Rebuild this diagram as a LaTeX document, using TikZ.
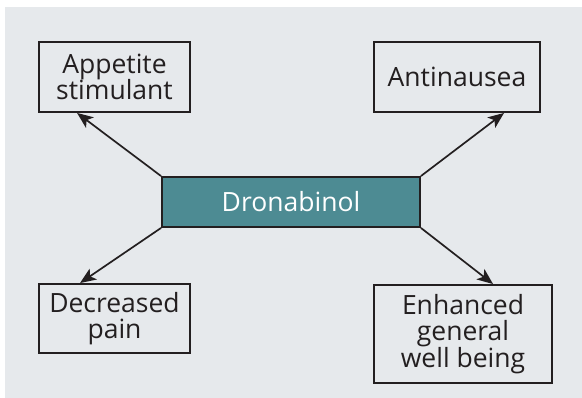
\documentclass[tikz,border=0pt]{standalone}
\usepackage{fontspec}
\setmainfont{Open Sans}
\usetikzlibrary{arrows.meta,calc}
\definecolor{bggray}{HTML}{E6E9EC}
\definecolor{teal}{HTML}{4D8B93}
\definecolor{ink}{HTML}{231F20}
\begin{document}
\begin{tikzpicture}[x=1pt,y=-1pt,
  effbox/.style={draw=ink,line width=1.9pt,fill=bggray,inner sep=0pt,align=center,
    font=\fontsize{26.5}{26.7}\selectfont,text=ink},
  drugbox/.style={draw=ink,line width=1.9pt,fill=teal,inner sep=0pt,
    font=\fontsize{26.5}{26.7}\selectfont,text=white},
  arr/.style={draw=ink,line width=1.7pt,-{Stealth[length=16pt,width=13pt,inset=4pt]}}]
\useasboundingbox (0,0) rectangle (582,398);
\fill[bggray] (4.5,7.5) rectangle (582,398);
\node[effbox,minimum width=151pt,minimum height=70pt] (app) at (114.5,77) {Appetite\\stimulant};
\node[effbox,minimum width=166pt,minimum height=70pt] (anti) at (457,77) {Antinausea};
\node[drugbox,minimum width=258pt,minimum height=50pt] (drug) at (291,202) {Dronabinol};
\node[effbox,minimum width=151pt,minimum height=69pt] (pain) at (114.5,318.5) {Decreased\\pain};
\node[effbox,minimum width=178pt,minimum height=98pt] (well) at (463,334) {Enhanced\\general\\well being};
\coordinate (appt) at ($(app.south west)+(39,0)$);
\coordinate (antit) at ($(anti.south west)+(131,0)$);
\coordinate (paint) at ($(pain.north west)+(42,0)$);
\coordinate (wellt) at ($(well.north west)+(120,0)$);
\draw[arr] (drug.north west) -- (appt);
\draw[arr] (drug.north east) -- (antit);
\draw[arr] (drug.south west) -- (paint);
\draw[arr] (drug.south east) -- (wellt);
\end{tikzpicture}
\end{document}
